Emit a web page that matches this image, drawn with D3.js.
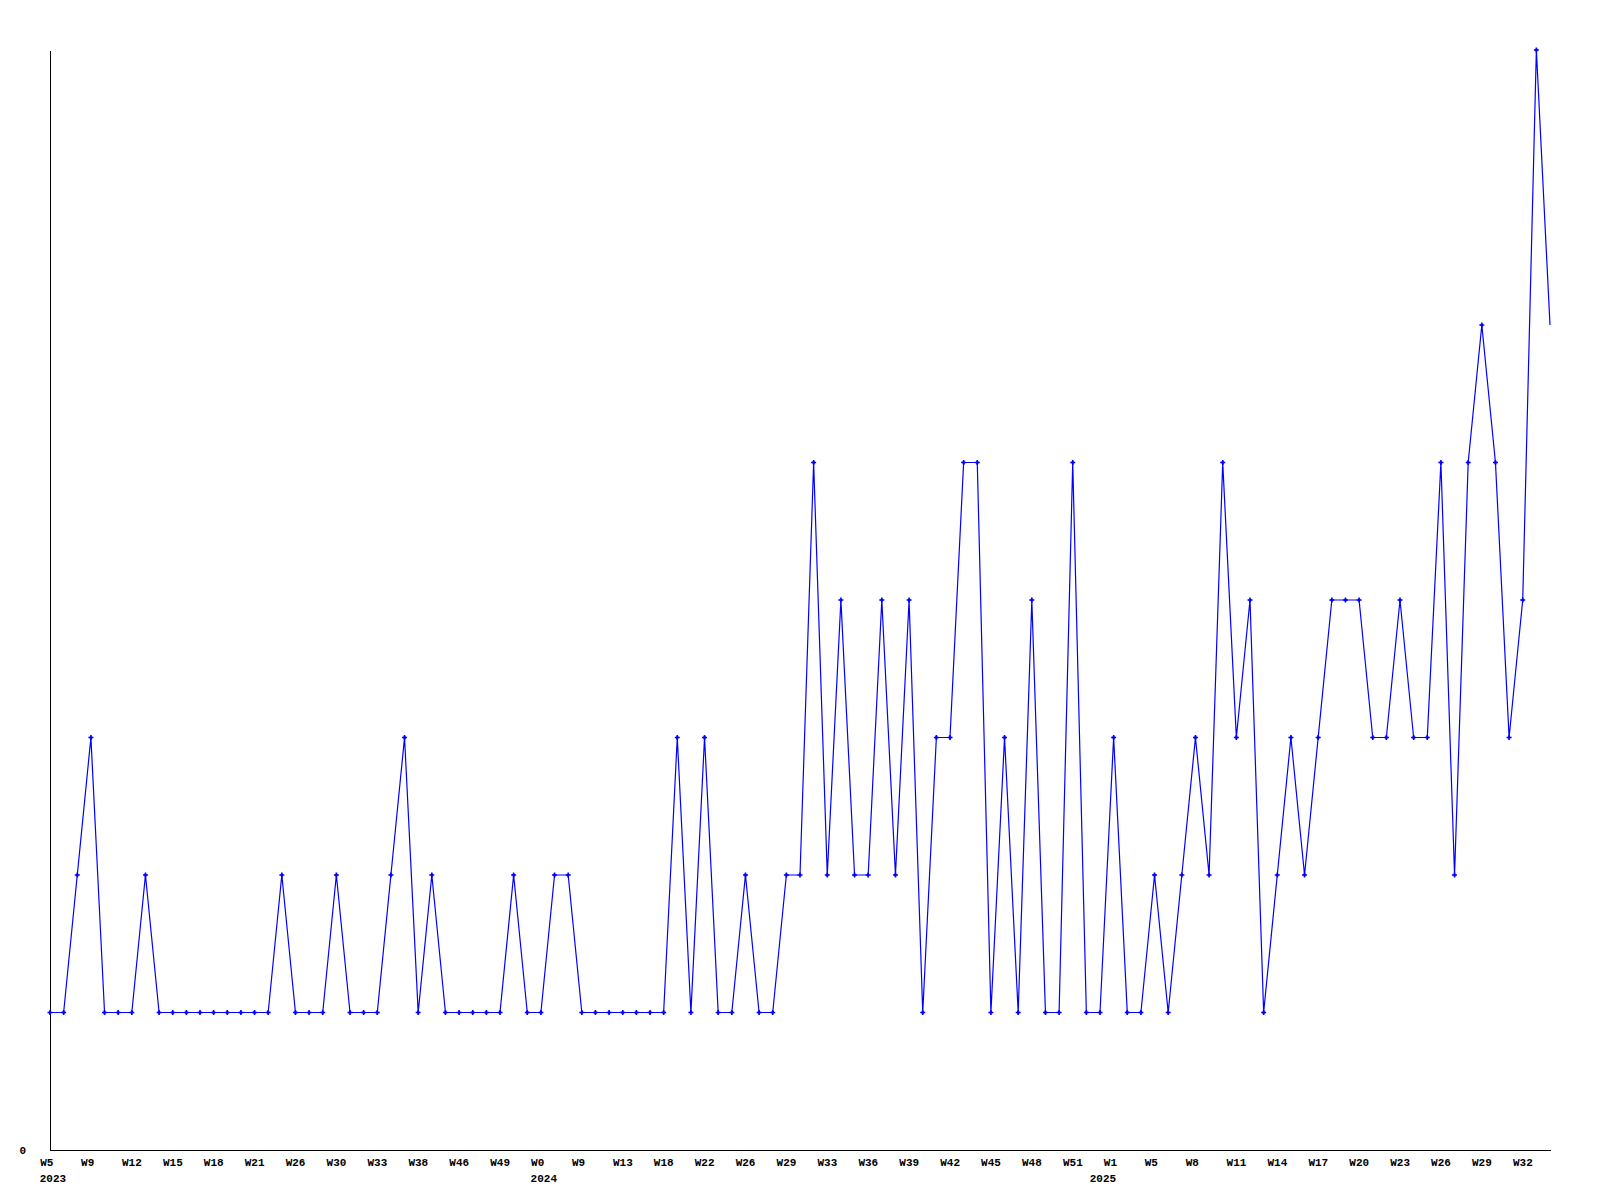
<!DOCTYPE html>
<html>
<head>
<meta charset="utf-8">
<script src="https://cdn.jsdelivr.net/npm/d3@7"></script>
<style>
  html, body { margin: 0; padding: 0; background: #fff; }
  svg { display: block; }
  .lbl { font-family: "Liberation Mono", "DejaVu Sans Mono", monospace; font-weight: bold; font-size: 11px; fill: #000; }
</style>
</head>
<body>
<script>
// Weekly values (one per week present in the data)
const values = [
  1,1,2,3,1,1,1,2,1,1, 1,1,1,1,1,1,1,2,1,1,
  1,2,1,1,1,2,3,1,2,1, 1,1,1,1,2,1,1,2,2,1,
  1,1,1,1,1,1,3,1,3,1, 1,2,1,1,2,2,5,2,4,2,
  2,4,2,4,1,3,3,5,5,1, 3,1,4,1,1,5,1,1,3,1,
  1,2,1,2,3,2,5,3,4,1, 2,3,2,3,4,4,4,3,3,4,
  3,3,5,2,5,6,5,3,4,8, 6
];
// Tick labels shown every 3rd week
const tickLabels = ["W5","W9","W12","W15","W18","W21","W26","W30","W33","W38","W46","W49",
  "W0","W9","W13","W18","W22","W26","W29","W33","W36","W39","W42","W45","W48","W51",
  "W1","W5","W8","W11","W14","W17","W20","W23","W26","W29","W32"];
// Year labels under the first data point of each year (point index)
const yearPointIdx = [0, 36, 77];
const yearLabels = ["2023","2024","2025"];
const tickStep = 3;
const yMax = 8;

(function () {
const W = 1600, H = 1200;
const mLeft = 50, mRight = 1550, mTop = 50, mBottom = 1150;

const svg = d3.select("body").append("svg").attr("width", W).attr("height", H);

const x = d3.scaleLinear().domain([0, values.length - 1]).range([mLeft, mRight]);
const y = d3.scaleLinear().domain([0, yMax]).range([mBottom, mTop]);

const tickIdx = tickLabels.map((d, i) => i * tickStep);

// Bottom axis
const xAxis = d3.axisBottom(x).tickValues(tickIdx).tickSize(0).tickSizeOuter(0)
  .tickFormat((d, i) => tickLabels[i]);
const gx = svg.append("g").attr("transform", `translate(0,${mBottom})`).call(xAxis);
gx.select(".domain").attr("stroke", "#000").attr("stroke-width", 1).attr("shape-rendering", "crispEdges");
gx.selectAll(".tick text").attr("class", "lbl").attr("text-anchor", "start")
  .attr("x", -10.3).attr("y", 16).attr("dy", null);

// Year labels
gx.selectAll("text.year").data(yearLabels).enter().append("text")
  .attr("class", "lbl year")
  .attr("x", (d, i) => x(yearPointIdx[i]) - 10.3)
  .attr("y", 32)
  .attr("text-anchor", "start")
  .text(d => d);

// Left axis
const yAxis = d3.axisLeft(y).tickValues([0]).tickSize(0).tickSizeOuter(0).tickPadding(24);
const gy = svg.append("g").attr("transform", `translate(${mLeft},0)`).call(yAxis);
gy.select(".domain").attr("stroke", "#000").attr("stroke-width", 1).attr("shape-rendering", "crispEdges");
gy.selectAll(".tick text").attr("class", "lbl").attr("dy", "0.35em");

// Line
const line = d3.line().x((d, i) => x(i)).y(d => y(d));
svg.append("path").datum(values)
  .attr("d", line)
  .attr("fill", "none")
  .attr("stroke", "#0000ff")
  .attr("stroke-width", 1.2);

// Markers (small plus shapes)
const pts = values.map((v, i) => ({ i, v })).filter(d => d.i < values.length - 1);
const mk = svg.append("g").attr("stroke", "#0000ff").attr("fill", "#0000ff");
mk.selectAll("path").data(pts).enter().append("path")
  .attr("transform", d => `translate(${x(d.i)},${y(d.v)})`)
  .attr("d", "M-2.5,0H2.5M0,-2.5V2.5")
  .attr("stroke-width", 1.6);
mk.selectAll("rect").data(pts).enter().append("rect")
  .attr("x", d => x(d.i) - 1.2).attr("y", d => y(d.v) - 1.2)
  .attr("width", 2.4).attr("height", 2.4).attr("stroke", "none");
})();
</script>
</body>
</html>
